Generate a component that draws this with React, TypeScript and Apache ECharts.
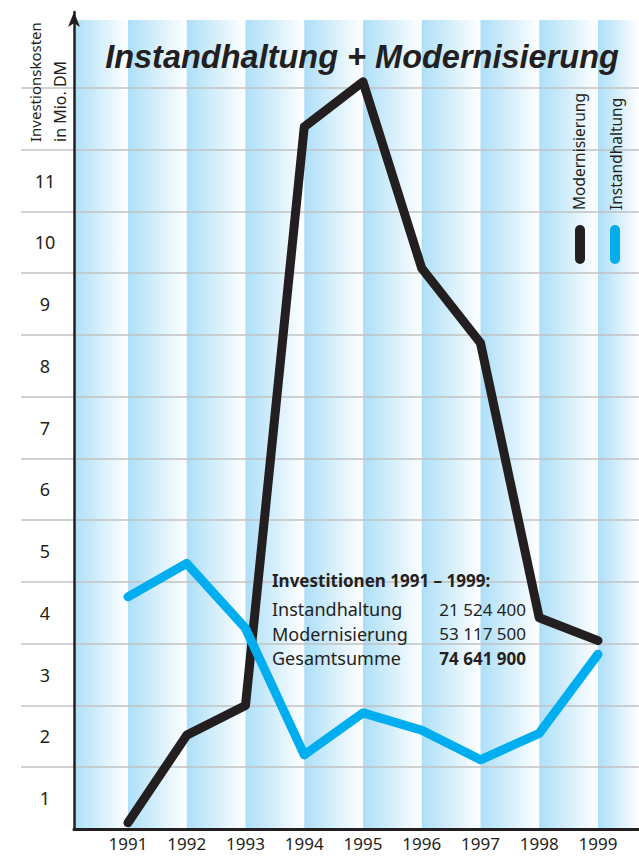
import React, { useEffect, useRef } from "react";
import * as echarts from "echarts";

const years = [1991, 1992, 1993, 1994, 1995, 1996, 1997, 1998, 1999];
const modernisierung = [0.1, 1.52, 2.0, 11.37, 12.1, 9.08, 7.87, 3.42, 3.05];
const instandhaltung = [3.76, 4.3, 3.25, 1.2, 1.88, 1.6, 1.12, 1.55, 2.83];
const yTickLabels = [1, 2, 3, 4, 5, 6, 7, 8, 9, 10, 11];
const gridValues = [1, 2, 3, 4, 5, 6, 7, 8, 9, 10, 11, 12];
const summaryRows = [
  ["Instandhaltung", "21 524 400"],
  ["Modernisierung", "53 117 500"],
  ["Gesamtsumme", "74 641 900"],
];

const X_MIN = 1990.081;
const X_MAX = 1999.698;
const Y_MAX = 13.23;
const STRIPE_TOP = 13.1;
const DARK = "#231f20";
const BLUE = "#00aeef";
const FONT = "'Noto Sans', sans-serif";

export default function App() {
  const ref = useRef<HTMLDivElement>(null);
  useEffect(() => {
    if (!ref.current) return;
    const chart = echarts.init(ref.current, null, { renderer: "svg" });
    const bounds = [X_MIN, ...years, X_MAX];
    const stripes = [];
    for (let i = 0; i < bounds.length - 1; i++) {
      stripes.push([
        {
          xAxis: bounds[i],
          yAxis: 0,
          itemStyle: {
            color: {
              type: "linear",
              x: 0,
              y: 0,
              x2: 1,
              y2: 0,
              colorStops: [
                { offset: 0, color: "#addff8" },
                { offset: 1, color: "#ffffff" },
              ],
            },
          },
        },
        { xAxis: bounds[i + 1], yAxis: STRIPE_TOP },
      ]);
    }
    const option = {
      animation: false,
      grid: [
        { left: 74, right: 0, top: 12, bottom: 28 },
        { left: 21, right: 0, top: 12, bottom: 28 },
      ],
      xAxis: [
        {
          type: "value",
          gridIndex: 0,
          min: X_MIN,
          max: X_MAX,
          z: 6,
          axisLine: { show: true, lineStyle: { color: DARK, width: 3 } },
          axisTick: { show: false },
          splitLine: { show: false },
          axisLabel: {
            customValues: years,
            formatter: (v: number) => String(Math.round(v)),
            color: DARK,
            fontFamily: FONT,
            fontSize: 17,
            lineHeight: 17,
            margin: 6,
          },
        },
        { type: "value", gridIndex: 1, min: 0, max: 1, show: false },
      ],
      yAxis: [
        {
          type: "value",
          gridIndex: 0,
          min: 0,
          max: Y_MAX,
          z: 6,
          axisLine: {
            show: true,
            symbol: ["none", "arrow"],
            symbolSize: [9, 15],
            lineStyle: { color: DARK, width: 2.5 },
          },
          axisTick: { show: false },
          axisLabel: { show: false },
          splitLine: { show: false },
        },
        {
          type: "value",
          gridIndex: 1,
          min: 0,
          max: Y_MAX,
          z: 3,
          axisLine: { show: false },
          axisTick: { show: false, customValues: gridValues },
          splitLine: { show: true, lineStyle: { color: "#c2c2c2", width: 1.6 } },
          axisLabel: {
            inside: true,
            customValues: yTickLabels.map((v) => v - 0.5),
            formatter: (v: number) => String(Math.round(v + 0.5)),
            align: "center",
            margin: 24,
            color: DARK,
            fontFamily: FONT,
            fontSize: 18,
          },
        },
      ],
      series: [
        {
          type: "line",
          xAxisIndex: 0,
          yAxisIndex: 0,
          data: [],
          z: 1,
          silent: true,
          markArea: { silent: true, data: stripes },
        },
        {
          name: "Modernisierung",
          type: "line",
          xAxisIndex: 0,
          yAxisIndex: 0,
          z: 5,
          showSymbol: false,
          data: years.map((y, i) => [y, modernisierung[i]]),
          lineStyle: { color: DARK, width: 9, cap: "round", join: "round" },
          itemStyle: { color: DARK },
        },
        {
          name: "Instandhaltung",
          type: "line",
          xAxisIndex: 0,
          yAxisIndex: 0,
          z: 5,
          showSymbol: false,
          data: years.map((y, i) => [y, instandhaltung[i]]),
          lineStyle: { color: BLUE, width: 9, cap: "round", join: "round" },
          itemStyle: { color: BLUE },
        },
      ],
      graphic: [
        {
          type: "text",
          z: 10,
          x: 362,
          y: 57,
          style: {
            text: "Instandhaltung + Modernisierung",
            fontFamily: "'Liberation Sans', Arial, sans-serif",
            fontWeight: "bold",
            fontStyle: "italic",
            fontSize: 32.5,
            fill: DARK,
            align: "center",
            verticalAlign: "middle",
          },
        },
        {
          type: "text",
          z: 10,
          x: 35,
          y: 142,
          rotation: Math.PI / 2,
          style: {
            text: "Investionskosten",
            fontFamily: FONT,
            fontSize: 15,
            fill: DARK,
            align: "left",
            verticalAlign: "middle",
          },
        },
        {
          type: "text",
          z: 10,
          x: 60,
          y: 142,
          rotation: Math.PI / 2,
          style: {
            text: "in Mio. DM",
            fontFamily: FONT,
            fontSize: 16,
            fill: DARK,
            align: "left",
            verticalAlign: "middle",
          },
        },
        {
          type: "text",
          z: 10,
          x: 579,
          y: 210,
          rotation: Math.PI / 2,
          style: {
            text: "Modernisierung",
            fontFamily: FONT,
            fontSize: 15.5,
            fill: DARK,
            align: "left",
            verticalAlign: "middle",
          },
        },
        {
          type: "text",
          z: 10,
          x: 616,
          y: 210,
          rotation: Math.PI / 2,
          style: {
            text: "Instandhaltung",
            fontFamily: FONT,
            fontSize: 15.5,
            fill: DARK,
            align: "left",
            verticalAlign: "middle",
          },
        },
        {
          type: "line",
          z: 10,
          shape: { x1: 580, y1: 230, x2: 580, y2: 259 },
          style: { stroke: DARK, lineWidth: 10, lineCap: "round" },
        },
        {
          type: "line",
          z: 10,
          shape: { x1: 615, y1: 230, x2: 615, y2: 259 },
          style: { stroke: BLUE, lineWidth: 10, lineCap: "round" },
        },
        {
          type: "text",
          z: 10,
          x: 272,
          y: 580,
          style: {
            text: "Investitionen 1991 – 1999:",
            fontFamily: FONT,
            fontWeight: "bold",
            fontSize: 17,
            fill: DARK,
            align: "left",
            verticalAlign: "middle",
          },
        },
        ...summaryRows.flatMap((row, i) => [
          {
            type: "text",
            z: 10,
            x: 272,
            y: 609 + i * 24.5,
            style: {
              text: row[0],
              fontFamily: FONT,
              fontSize: 18,
              fill: DARK,
              align: "left",
              verticalAlign: "middle",
            },
          },
          {
            type: "text",
            z: 10,
            x: 526,
            y: 609 + i * 24.5,
            style: {
              text: row[1],
              fontFamily: FONT,
              fontSize: 17,
              fontWeight: i === 2 ? "bold" : "normal",
              fill: DARK,
              align: "right",
              verticalAlign: "middle",
            },
          },
        ]),
      ],
    };
    chart.setOption(option as any);
    return () => chart.dispose();
  }, []);
  return (
    <div
      ref={ref}
      style={{ position: "fixed", left: 0, top: 0, width: 639, height: 857, background: "#ffffff" }}
    />
  );
}
